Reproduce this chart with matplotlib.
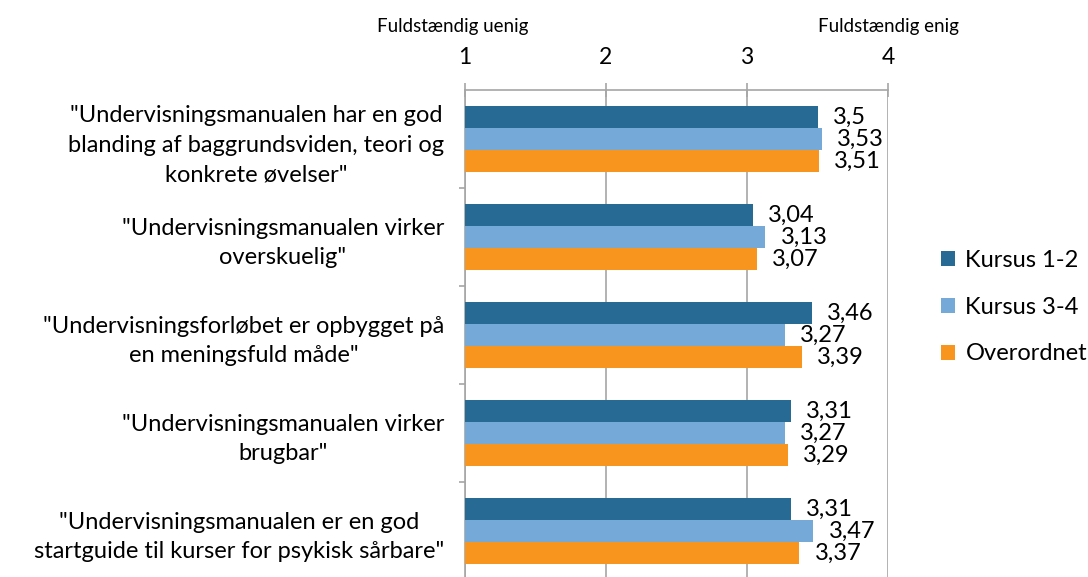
import numpy as np
import matplotlib.pyplot as plt

plt.rcParams['font.family'] = ['Lato', 'DejaVu Sans']

udsagn = [
    '"Undervisningsmanualen har en god\nblanding af baggrundsviden, teori og\nkonkrete øvelser"',
    '"Undervisningsmanualen virker\noverskuelig"',
    '"Undervisningsforløbet er opbygget på\nen meningsfuld måde"',
    '"Undervisningsmanualen virker\nbrugbar"',
    '"Undervisningsmanualen er en god\nstartguide til kurser for psykisk sårbare"',
]
kursus_12 = [3.5, 3.04, 3.46, 3.31, 3.31]
kursus_34 = [3.53, 3.13, 3.27, 3.27, 3.47]
overordnet = [3.51, 3.07, 3.39, 3.29, 3.37]
serier = ["Kursus 1-2", "Kursus 3-4", "Overordnet"]
farver = ["#276A93", "#75A9D7", "#F7951F"]
x_ticks = [1, 2, 3, 4]

fig = plt.figure(figsize=(10.88, 5.77), dpi=100)
ax = fig.add_axes([465/1088, 1 - 580/577, 423/1088, 490/577])

y = np.arange(len(udsagn))
h = 0.225
for k, (vals, navn, farve) in enumerate(zip([kursus_12, kursus_34, overordnet], serier, farver)):
    pos = y + (k - 1) * h
    ax.barh(pos, vals, height=h, color=farve, label=navn, zorder=3)
    for p, v in zip(pos, vals):
        ax.annotate(str(v).replace('.', ','), (v, p), xytext=(11, 0),
                    textcoords='offset points', va='center', ha='left',
                    fontsize=17, zorder=4)

grå = "#A6A6A6"
ax.set_xlim(1, 4)
ax.set_ylim(len(udsagn) - 0.5, -0.5)
ax.set_xticks(x_ticks)
ax.xaxis.tick_top()
ax.tick_params(axis='x', direction='inout', length=10, color=grå, width=1.2,
               labelsize=16.5, pad=11)
ax.set_yticks(y)
ax.set_yticklabels(udsagn, fontsize=17, ha='right', multialignment='center',
                   linespacing=1.5)
ax.tick_params(axis='y', length=0, pad=15)
ax.set_yticks(np.arange(0.5, len(udsagn) - 0.5), minor=True)
ax.tick_params(axis='y', which='minor', length=4, color=grå, width=1.2)
ax.grid(axis='x', color=grå, linewidth=1.2, zorder=0)
for s in ['right', 'bottom']:
    ax.spines[s].set_visible(False)
for s in ['top', 'left']:
    ax.spines[s].set_color(grå)
    ax.spines[s].set_linewidth(1.2)

ax.text(0.915, 1.129, "Fuldstændig uenig", transform=ax.get_xaxis_transform(),
        ha='center', va='center', fontsize=13.5)
ax.text(4.0, 1.129, "Fuldstændig enig", transform=ax.get_xaxis_transform(),
        ha='center', va='center', fontsize=13.5)

fig.legend(loc='center left', bbox_to_anchor=(0.845, 1 - 307/577), frameon=False,
           fontsize=17, handlelength=0.6, handleheight=0.6, labelspacing=1.1,
           handletextpad=0.45)

fig.savefig("out.png", dpi=100)
